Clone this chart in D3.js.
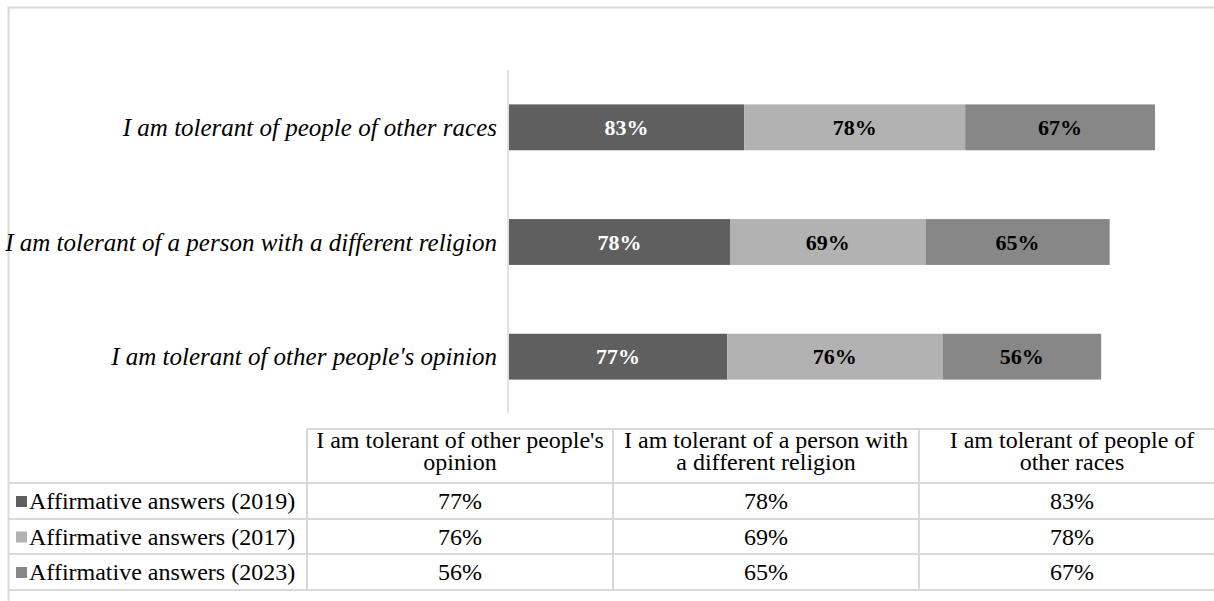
<!DOCTYPE html>
<html>
<head>
<meta charset="utf-8">
<script src="https://cdn.jsdelivr.net/npm/d3@7"></script>
<style>
  html, body { margin: 0; padding: 0; background: #fff; }
  svg { display: block; }
  text { font-family: "Times New Roman", "Liberation Serif", Tinos, "DejaVu Serif", serif; }
</style>
</head>
<body>
<svg id="chart" width="1214" height="601"></svg>
<script>
// Categories, listed bottom-to-top as they appear on the chart (and left-to-right in the data table)
const categories = [
  "I am tolerant of other people's opinion",
  "I am tolerant of a person with a different religion",
  "I am tolerant of people of other races"
];
// Header text in the data table, wrapped onto two lines
const tableHeaders = [
  ["I am tolerant of other people's", "opinion"],
  ["I am tolerant of a person with", "a different religion"],
  ["I am tolerant of people of", "other races"]
];
const seriesNames = [
  "Affirmative answers (2019)",
  "Affirmative answers (2017)",
  "Affirmative answers (2023)"
];
const values2019 = [77, 78, 83];
const values2017 = [76, 69, 78];
const values2023 = [56, 65, 67];
const seriesColors = ["#5f5f5f", "#b2b2b2", "#878787"];
const labelColors = ["#ffffff", "#000000", "#000000"];

const seriesValues = [values2019, values2017, values2023];
const rows = categories.map((c, i) => {
  const r = { category: c };
  seriesNames.forEach((s, j) => { r[s] = seriesValues[j][i]; });
  return r;
});

const svg = d3.select("#chart");
const gridColor = "#d9d9d9";

// Outer chart frame
svg.append("rect")
  .attr("x", 8.5).attr("y", 7.5)
  .attr("width", 1240).attr("height", 640)
  .attr("fill", "none").attr("stroke", gridColor).attr("stroke-width", 2);

// Stacked bars
const stack = d3.stack().keys(seriesNames);
const stacked = stack(rows);
const totals = rows.map(r => d3.sum(seriesNames, s => r[s]));

const x = d3.scaleLinear().domain([0, d3.max(totals)]).range([509, 1155]);
const y = d3.scaleBand()
  .domain(categories.slice().reverse())
  .range([70, 414])
  .paddingInner(0.6)
  .paddingOuter(0.3);

// Category axis line
svg.append("line")
  .attr("x1", 508).attr("x2", 508)
  .attr("y1", 70).attr("y2", 413)
  .attr("stroke", gridColor).attr("stroke-width", 1.5);

// Category labels
svg.append("g").selectAll("text")
  .data(categories)
  .join("text")
  .attr("x", 497)
  .attr("y", d => y(d) + y.bandwidth() / 2)
  .attr("text-anchor", "end")
  .attr("dominant-baseline", "central")
  .attr("font-style", "italic")
  .attr("font-size", 25)
  .attr("fill", "#000")
  .text(d => d);

const layers = svg.append("g").selectAll("g")
  .data(stacked)
  .join("g");

layers.selectAll("rect")
  .data((d, i) => d.map(p => ({ p, i })))
  .join("rect")
  .attr("x", d => x(d.p[0]))
  .attr("y", d => y(d.p.data.category))
  .attr("width", d => x(d.p[1]) - x(d.p[0]))
  .attr("height", y.bandwidth())
  .attr("fill", d => seriesColors[d.i]);

layers.selectAll("text")
  .data((d, i) => d.map(p => ({ p, i })))
  .join("text")
  .attr("x", d => (x(d.p[0]) + x(d.p[1])) / 2)
  .attr("y", d => y(d.p.data.category) + y.bandwidth() / 2)
  .attr("text-anchor", "middle")
  .attr("dominant-baseline", "central")
  .attr("font-weight", "bold")
  .attr("font-size", 22)
  .attr("fill", d => labelColors[d.i])
  .text(d => (d.p[1] - d.p[0]) + "%");

// Data table beneath the chart
const colEdges = [307, 613, 919, 1225];
const rowEdges = [429, 483, 519, 554, 590];
const table = svg.append("g");

// Horizontal rules
table.append("line")
  .attr("x1", colEdges[0]).attr("x2", 1214)
  .attr("y1", rowEdges[0]).attr("y2", rowEdges[0])
  .attr("stroke", gridColor).attr("stroke-width", 2);
rowEdges.slice(1).forEach(yy => {
  table.append("line")
    .attr("x1", 8).attr("x2", 1214)
    .attr("y1", yy).attr("y2", yy)
    .attr("stroke", gridColor).attr("stroke-width", 2);
});
// Vertical rules
colEdges.slice(0, 3).forEach(xx => {
  table.append("line")
    .attr("x1", xx).attr("x2", xx)
    .attr("y1", rowEdges[0]).attr("y2", rowEdges[4])
    .attr("stroke", gridColor).attr("stroke-width", 2);
});

// Header cells (two lines each, tightly spaced)
tableHeaders.forEach((lines, i) => {
  const cx = (colEdges[i] + colEdges[i + 1]) / 2;
  table.append("text")
    .attr("x", cx)
    .attr("y", 448)
    .attr("text-anchor", "middle")
    .attr("font-size", 24)
    .attr("fill", "#000")
    .selectAll("tspan")
    .data(lines)
    .join("tspan")
    .attr("x", cx)
    .attr("dy", (d, k) => k === 0 ? 0 : 22)
    .text(d => d);
});

// Series rows: legend key, name and values
seriesNames.forEach((s, j) => {
  const cy = (rowEdges[j + 1] + rowEdges[j + 2]) / 2;
  table.append("rect")
    .attr("x", 16).attr("y", cy - 5)
    .attr("width", 11).attr("height", 11)
    .attr("fill", seriesColors[j]);
  table.append("text")
    .attr("x", 29).attr("y", cy)
    .attr("dominant-baseline", "central")
    .attr("font-size", 24)
    .attr("fill", "#000")
    .text(s);
  seriesValues[j].forEach((v, i) => {
    table.append("text")
      .attr("x", (colEdges[i] + colEdges[i + 1]) / 2)
      .attr("y", cy)
      .attr("text-anchor", "middle")
      .attr("dominant-baseline", "central")
      .attr("font-size", 24)
      .attr("fill", "#000")
      .text(v + "%");
  });
});
</script>
</body>
</html>
